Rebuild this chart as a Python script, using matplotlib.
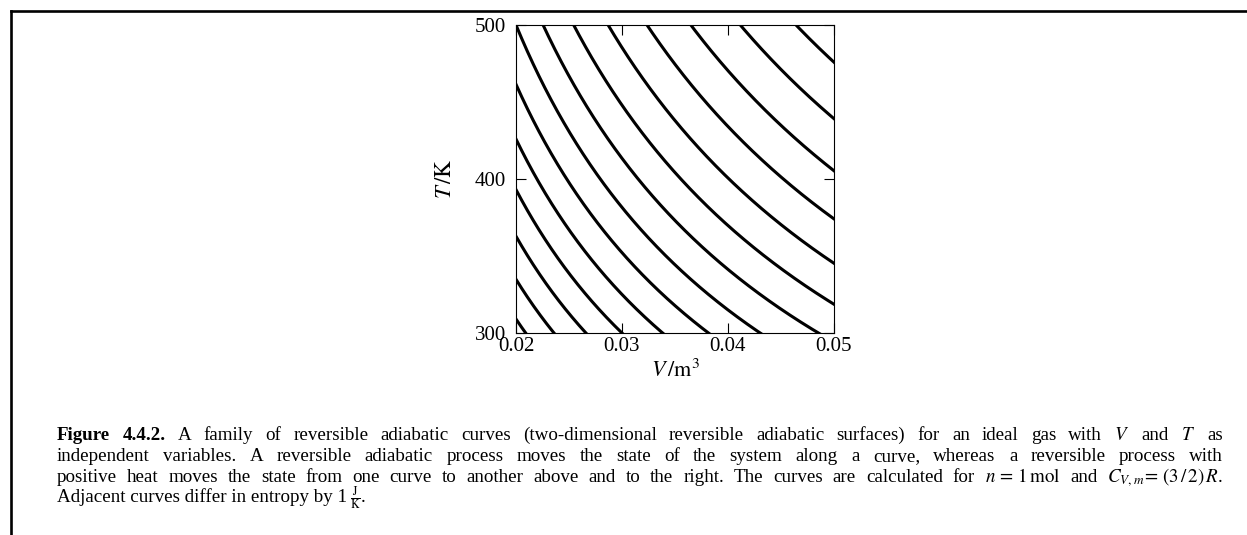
import numpy as np
import matplotlib.pyplot as plt
from matplotlib.lines import Line2D

plt.rcParams['font.family'] = ['Liberation Serif', 'DejaVu Serif']
plt.rcParams['mathtext.fontset'] = 'stix'

# ideal gas, n = 1 mol, Cv,m = (3/2) R
R = 8.314
n_mol = 1.0
Cv_m = 1.5 * R
# reference state of the curve through the top-left corner
V_ref = 0.02
T_ref = 500.0
# entropy of each curve relative to the reference curve, J/K
entropy_offsets = [-6, -5, -4, -3, -2, -1, 0, 1, 2, 3, 4, 5, 6, 7]

x_ticks = [0.02, 0.03, 0.04, 0.05]
x_ticklabels = ["0.02", "0.03", "0.04", "0.05"]
y_ticks = [300, 400, 500]
y_ticklabels = ["300", "400", "500"]

caption_lines = [
    r"Figure 4.4.2. A family of reversible adiabatic curves (two-dimensional reversible adiabatic surfaces) for an ideal gas with $V$ and $T$ as",
    r"independent variables. A reversible adiabatic process moves the state of the system along a curve, whereas a reversible process with",
    r"positive heat moves the state from one curve to another above and to the right. The curves are calculated for $n\,=\,1\,\mathrm{mol}$ and $C_{V,m}\!=\,(3\,/\,2)\,R$.",
]
# last line, not justified; the unit fraction is set as its own piece
caption_last = ["Adjacent curves differ in entropy by 1", r"$\frac{\mathrm{J}}{\mathrm{K}}$", "."]
bold_words = ["Figure", "4.4.2."]

W, H = 1247, 535
fig = plt.figure(figsize=(W / 100, H / 100), dpi=100)
ax = fig.add_axes([516 / W, 1 - 333 / H, 318 / W, 308 / H])

V = np.linspace(x_ticks[0], x_ticks[-1], 500)
for dS in entropy_offsets:
    T = T_ref * (V_ref / V) ** (R / Cv_m) * np.exp(dS / (n_mol * Cv_m))
    ax.plot(V, T, color='black', lw=2.2)

ax.set_xlim(x_ticks[0], x_ticks[-1])
ax.set_ylim(y_ticks[0], y_ticks[-1])
ax.set_xticks(x_ticks)
ax.set_xticklabels(x_ticklabels)
ax.set_yticks(y_ticks)
ax.set_yticklabels(y_ticklabels)
ax.tick_params(direction='in', length=7, width=0.8, top=True, right=True,
               labelsize=15)
ax.tick_params(axis='x', pad=3)
ax.tick_params(axis='y', pad=7)
for s in ax.spines.values():
    s.set_linewidth(0.8)

ax.set_xlabel(r"$V\,/\mathrm{m}^3$", fontsize=16)
ax.set_ylabel(r"$T\,/\mathrm{K}$", fontsize=16.5)
ax.xaxis.set_label_coords(0.5, -0.085)
ax.yaxis.set_label_coords(-0.19, 0.5)

# frame around the figure
fig.add_artist(Line2D([11 / W, 1], [1 - 11 / H] * 2, transform=fig.transFigure,
                      color='black', lw=1.9, solid_capstyle='projecting'))
fig.add_artist(Line2D([11 / W] * 2, [0, 1 - 11 / H], transform=fig.transFigure,
                      color='black', lw=1.9, solid_capstyle='projecting'))

# caption, justified between x_left and x_right
x_left, x_right = 57, 1223
baselines = [440, 461, 482, 502]
renderer = fig.canvas.get_renderer()

# size the caption from the fullest line
probe = fig.text(0, 0, caption_lines[2], fontsize=10)
cap_size = 10 * (x_right - x_left) / probe.get_window_extent(renderer).width * 0.9
probe.remove()

for i, line in enumerate(caption_lines):
    yb = 1 - baselines[i] / H
    words = line.split()
    texts = []
    for w in words:
        t = fig.text(0, yb, w, fontsize=cap_size, va='baseline',
                     fontweight='bold' if (i == 0 and w in bold_words) else 'normal')
        texts.append(t)
    widths = [t.get_window_extent(renderer).width for t in texts]
    gap = (x_right - x_left - sum(widths)) / (len(words) - 1)
    x = x_left
    for t, wd in zip(texts, widths):
        t.set_x(x / W)
        x += wd + gap

yb = 1 - baselines[3] / H
x = x_left
for k, piece in enumerate(caption_last):
    size = cap_size * 0.9 if piece.startswith("$") else cap_size
    t = fig.text(x / W, yb, piece, fontsize=size, va='baseline')
    x += t.get_window_extent(renderer).width + (3 if k == 0 else 0)

fig.savefig("out.png", dpi=100)
